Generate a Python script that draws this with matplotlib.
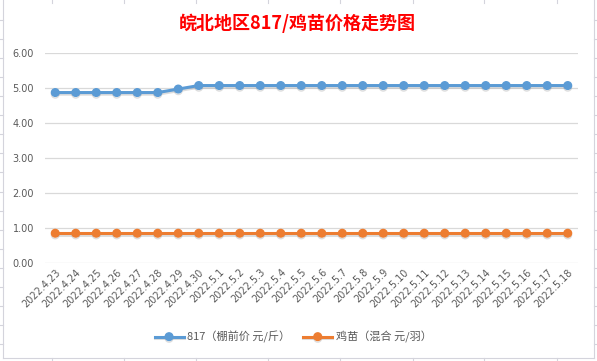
import matplotlib
matplotlib.use("Agg")
import matplotlib.pyplot as plt
import matplotlib.patheffects as pe
from matplotlib.lines import Line2D

plt.rcParams['font.family'] = ['Noto Sans CJK SC', 'DejaVu Sans']

# data
dates = ['2022.4.23', '2022.4.24', '2022.4.25', '2022.4.26', '2022.4.27', '2022.4.28',
         '2022.4.29', '2022.4.30', '2022.5.1', '2022.5.2', '2022.5.3', '2022.5.4',
         '2022.5.5', '2022.5.6', '2022.5.7', '2022.5.8', '2022.5.9', '2022.5.10',
         '2022.5.11', '2022.5.12', '2022.5.13', '2022.5.14', '2022.5.15', '2022.5.16',
         '2022.5.17', '2022.5.18']
price_817 = [4.87, 4.87, 4.87, 4.87, 4.87, 4.87, 4.97, 5.07, 5.07, 5.07, 5.07, 5.07, 5.07,
             5.07, 5.07, 5.07, 5.07, 5.07, 5.07, 5.07, 5.07, 5.07, 5.07, 5.07, 5.07, 5.07]
price_chick = [0.85] * 26
label_817 = '817（棚前价 元/斤）'
label_chick = '鸡苗（混合 元/羽）'
title = '皖北地区817/鸡苗价格走势图'
yticks = [0, 1, 2, 3, 4, 5, 6]

W, H = 597, 361
fig = plt.figure(figsize=(W / 100, H / 100), dpi=100)
fig.patch.set_facecolor('white')

# spreadsheet cell lines around the chart box
grid_c = '#D4D4DC'
def px_line(x0, y0, x1, y1):
    fig.add_artist(Line2D([x0 / W, x1 / W], [1 - y0 / H, 1 - y1 / H], color=grid_c, lw=0.8))

for cx in [52, 124, 196, 268, 340, 413, 484, 557]:
    px_line(cx, 0, cx, 2.5)
    px_line(cx, 358, cx, 361)
for k in range(18):
    ry = 20 + 19.06 * k
    px_line(0, ry, 2.5, ry)
    px_line(594, ry, 597, ry)
# chart border
px_line(2.5, 0, 2.5, 358)
px_line(2.5, 358, 594, 358)
px_line(594, 0, 594, 358)

ax = fig.add_axes([45 / W, 1 - 263 / H, 533 / W, 210 / H])
x = range(len(dates))

shadow = [pe.SimpleLineShadow(offset=(0, -1.2), shadow_color='#A0A0A0', alpha=0.35), pe.Normal()]
ax.plot(x, price_817, color='#5B9BD5', lw=2.2, marker='o', ms=5.5, label=label_817,
        path_effects=shadow, zorder=3)
ax.plot(x, price_chick, color='#ED7D31', lw=2.2, marker='o', ms=5.5, label=label_chick,
        path_effects=shadow, zorder=3)

ax.set_xlim(-0.5, len(dates) - 0.5)
ax.set_ylim(0, 6)
ax.set_yticks(yticks)
ax.set_yticklabels(['%.2f' % v for v in yticks])
ax.set_xticks(list(x))
ax.set_xticklabels(dates, rotation=45, ha='right', va='top', rotation_mode='anchor')
ax.tick_params(axis='both', length=0, labelsize=7, labelcolor='#595959')
ax.tick_params(axis='y', pad=8)
ax.tick_params(axis='x', pad=3)
for lbl in ax.get_xticklabels():
    lbl.set_family('DejaVu Sans')
for lbl in ax.get_yticklabels():
    lbl.set_family('DejaVu Sans')
ax.grid(axis='y', color='#D9D9D9', lw=0.9)
ax.set_axisbelow(True)
for s in ax.spines.values():
    s.set_visible(False)

fig.text(297 / W, 1 - 23 / H, title, color='red', fontsize=13, fontweight='bold',
         ha='center', va='center')

fig.legend(loc='center', bbox_to_anchor=(293 / W, 1 - 337 / H), ncol=2, frameon=False,
           fontsize=8, handlelength=2.6, columnspacing=1.2, handletextpad=0.3,
           labelcolor='#595959')

fig.savefig('out.png', dpi=100)
